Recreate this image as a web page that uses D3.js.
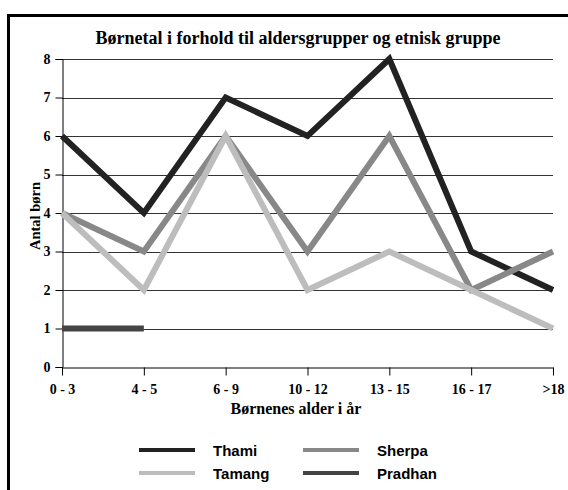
<!DOCTYPE html>
<html>
<head>
<meta charset="utf-8">
<script src="https://cdn.jsdelivr.net/npm/d3@7"></script>
<style>
  body { margin: 0; background: #fff; }
</style>
</head>
<body>
<div id="chart"></div>
<script>
const categories = ['0 - 3', '4 - 5', '6 - 9', '10 - 12', '13 - 15', '16 - 17', '>18'];
const thami = [6, 4, 7, 6, 8, 3, 2];
const sherpa = [4, 3, 6, 3, 6, 2, 3];
const tamang = [4, 2, 6, 2, 3, 2, 1];
const pradhan = [1, 1];
const yTicks = [0, 1, 2, 3, 4, 5, 6, 7, 8];

const series = [
  { name: 'Thami', values: thami, color: '#222222' },
  { name: 'Sherpa', values: sherpa, color: '#888888' },
  { name: 'Tamang', values: tamang, color: '#bdbdbd' },
  { name: 'Pradhan', values: pradhan, color: '#444444' }
];

const width = 568, height = 490;
const svg = d3.select('#chart').append('svg')
  .attr('width', width)
  .attr('height', height);

// frame
svg.append('rect')
  .attr('x', 8.5).attr('y', 15.5)
  .attr('width', 570).attr('height', 500)
  .attr('fill', 'none')
  .attr('stroke', '#000')
  .attr('stroke-width', 3);

const x = d3.scalePoint().domain(categories).range([62, 553]);
const y = d3.scaleLinear().domain([0, 8]).range([367, 59]);

// gridlines
svg.selectAll('line.grid')
  .data(yTicks.filter(d => d > 0))
  .enter()
  .append('line')
  .attr('class', 'grid')
  .attr('x1', 62).attr('x2', 553)
  .attr('y1', d => Math.round(y(d)) + 0.5)
  .attr('y2', d => Math.round(y(d)) + 0.5)
  .attr('stroke', '#333')
  .attr('stroke-width', 1);

const serif = '"Liberation Serif", "Times New Roman", serif';
const sans = '"Liberation Sans", Arial, sans-serif';

// y axis
const yAxis = svg.append('g')
  .attr('transform', 'translate(62.5,0)')
  .call(d3.axisLeft(y).tickValues(yTicks).tickSize(7).tickPadding(5).tickFormat(d3.format('d')));
yAxis.select('.domain').attr('stroke', '#000');
yAxis.selectAll('.tick line').attr('stroke', '#000');
yAxis.selectAll('text')
  .style('font-family', serif).style('font-size', '14px').style('font-weight', 'bold')
  .attr('fill', '#000');

// x axis
const xAxis = svg.append('g')
  .attr('transform', 'translate(0,367.5)')
  .call(d3.axisBottom(x).tickSize(8).tickSizeOuter(0).tickPadding(9));
xAxis.select('.domain').attr('stroke', '#000');
xAxis.selectAll('.tick line').attr('stroke', '#000');
xAxis.selectAll('text')
  .style('font-family', serif).style('font-size', '14px').style('font-weight', 'bold')
  .attr('fill', '#000');

// lines
const line = d3.line()
  .x((d, i) => x(categories[i]))
  .y(d => y(d));

svg.selectAll('path.series')
  .data(series)
  .enter()
  .append('path')
  .attr('class', 'series')
  .attr('d', d => line(d.values))
  .attr('fill', 'none')
  .attr('stroke', d => d.color)
  .attr('stroke-width', 6)
  .attr('stroke-linejoin', 'miter')
  .attr('stroke-linecap', 'butt');

// title
svg.append('text')
  .attr('x', 298).attr('y', 44)
  .attr('text-anchor', 'middle')
  .style('font-family', serif).style('font-size', '18px').style('font-weight', 'bold')
  .text('Børnetal i forhold til aldersgrupper og etnisk gruppe');

// axis titles
svg.append('text')
  .attr('x', 296).attr('y', 414)
  .attr('text-anchor', 'middle')
  .style('font-family', serif).style('font-size', '16px').style('font-weight', 'bold')
  .text('Børnenes alder i år');

svg.append('text')
  .attr('transform', 'translate(40,216) rotate(-90)')
  .attr('text-anchor', 'middle')
  .style('font-family', serif).style('font-size', '14.5px').style('font-weight', 'bold')
  .text('Antal børn');

// legend
const legend = svg.selectAll('g.legend')
  .data(series)
  .enter()
  .append('g')
  .attr('class', 'legend')
  .attr('transform', (d, i) => `translate(${139 + (i % 2) * 164},${450 + Math.floor(i / 2) * 23})`);

legend.append('line')
  .attr('x1', 0).attr('x2', 56)
  .attr('y1', 0).attr('y2', 0)
  .attr('stroke', d => d.color)
  .attr('stroke-width', 4);

legend.append('text')
  .attr('x', 74).attr('y', 6)
  .style('font-family', sans).style('font-size', '15px').style('font-weight', 'bold')
  .text(d => d.name);
</script>
</body>
</html>
